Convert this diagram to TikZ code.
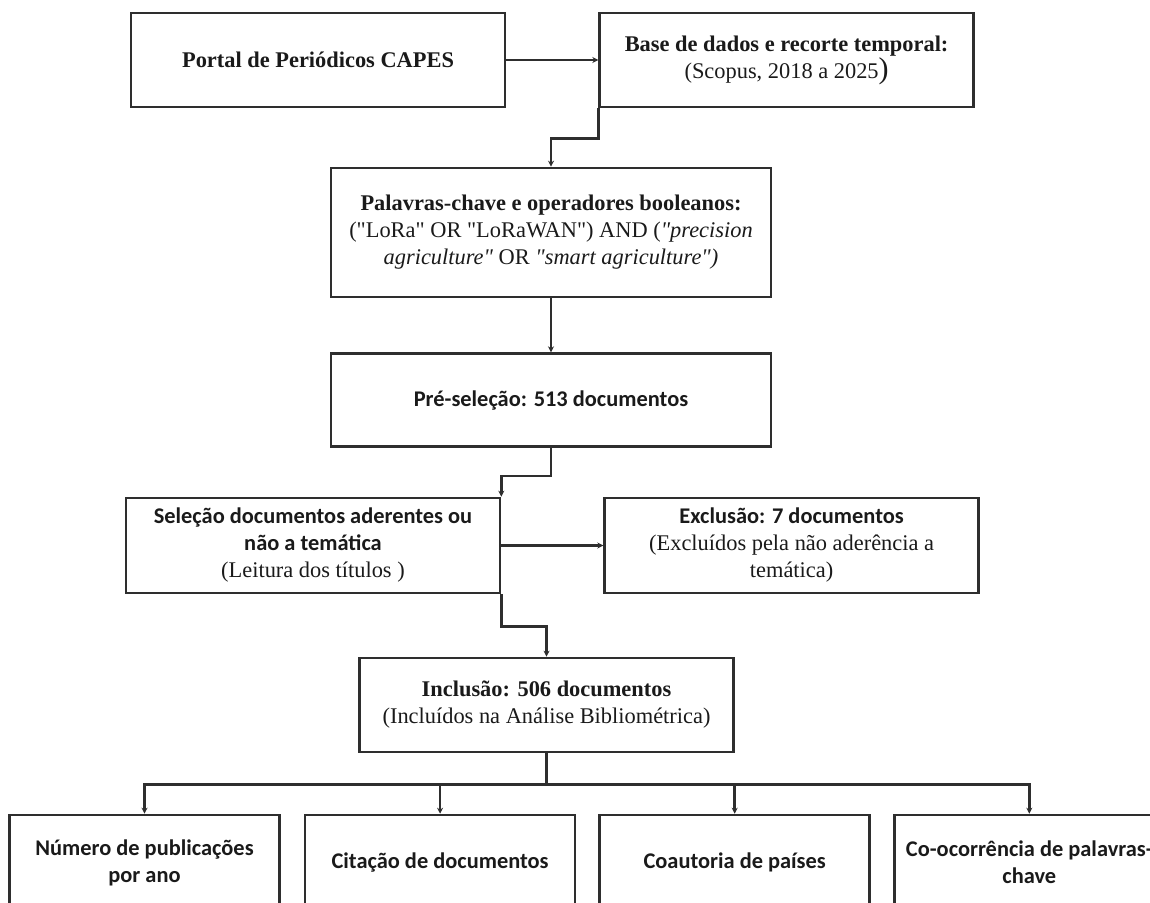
\documentclass[tikz,border=0pt]{standalone}
\usepackage{fontspec}
\setmainfont{Liberation Serif}[Ligatures=TeXOff]
\newfontfamily\calibri{Carlito}
\usetikzlibrary{positioning,arrows.meta}
\definecolor{boxline}{HTML}{2E2E2E}
\definecolor{boxink}{HTML}{1A1A1A}

\begin{document}
\begin{tikzpicture}[x=0.5pt, y=-0.5pt,
  etapa/.style={draw=boxline, fill=white, line width=1.3pt, inner sep=2pt,
    minimum width=187pt, minimum height=47pt, align=center, text=boxink,
    font=\fontsize{11.2}{13.5}\selectfont},
  etapasans/.style={etapa, font=\fontsize{11.2}{13.5}\selectfont\calibri\bfseries},
  folha/.style={etapasans, minimum width=135pt, minimum height=47.5pt},
  flow/.style={-{Stealth[length=3pt,width=3pt]}, boxline, line width=1.3pt}]
  \fill[white] (0,0) rectangle (1150,903);
  \useasboundingbox (0,0) rectangle (1150,903);
  \clip (0,0) rectangle (1150,903);
  % busca
  \node[etapa] (portal) at (318,60) {\bfseries Portal de Periódicos CAPES};
  \node[etapa, right=46pt of portal] (base) {\bfseries Base de dados e recorte temporal:\\
    (Scopus, 2018 a 2025{\fontsize{15}{15}\selectfont)}};
  \node[etapa, minimum width=220pt, minimum height=64.5pt] (palavras) at (551,232.5)
    {\bfseries Palavras-chave e operadores booleanos:\\
    ("LoRa" OR "LoRaWAN") AND (\textit{"precision}\\
    \textit{agriculture"} OR \textit{"smart agriculture")}};
  \node[etapasans, minimum width=220pt, minimum height=46.5pt, below=27pt of palavras] (pre)
    {Pré-seleção: 513 documentos};
  % triagem
  \node[etapa, minimum height=47.5pt] (selecao) at (313,545.5)
    {{\calibri\bfseries Seleção documentos aderentes ou}\\
    {\calibri\bfseries não a temática}\\(Leitura dos títulos )};
  \node[etapa, minimum height=47.5pt, right=51pt of selecao] (exclusao)
    {{\calibri\bfseries Exclusão: 7 documentos}\\(Excluídos pela não aderência a\\temática)};
  \node[etapa] (inclusao) at (546.5,705)
    {{\bfseries Inclusão: 506 documentos}\\(Incluídos na Análise Bibliométrica)};
  % análises
  \node[folha] (num) at (144.5,862.5) {Número de publicações\\por ano};
  \node[folha, right=11.5pt of num] (cit) {Citação de documentos};
  \node[folha, right=11pt of cit] (coa) {Coautoria de países};
  \node[folha, right=11pt of coa] (coo) {Co-ocorrência de palavras-\\chave};
  \draw[flow] (portal) -- (base);
  \draw[flow] (base.south west) -- ++(0,30) -| (palavras.north);
  \draw[flow] (palavras) -- (pre);
  \draw[flow] (pre.south) -- ++(0,28) -| (selecao.north east);
  \draw[flow] (selecao.east) -- (exclusao.west);
  \draw[flow] (selecao.south east) -- ++(0,32) -| (inclusao.north);
  \draw[boxline, line width=1.3pt] (inclusao.south) -- ++(0,31) coordinate (barra);
  \foreach \f in {num,cit,coa,coo} \draw[flow] (barra) -| (\f.north);
\end{tikzpicture}
\end{document}
